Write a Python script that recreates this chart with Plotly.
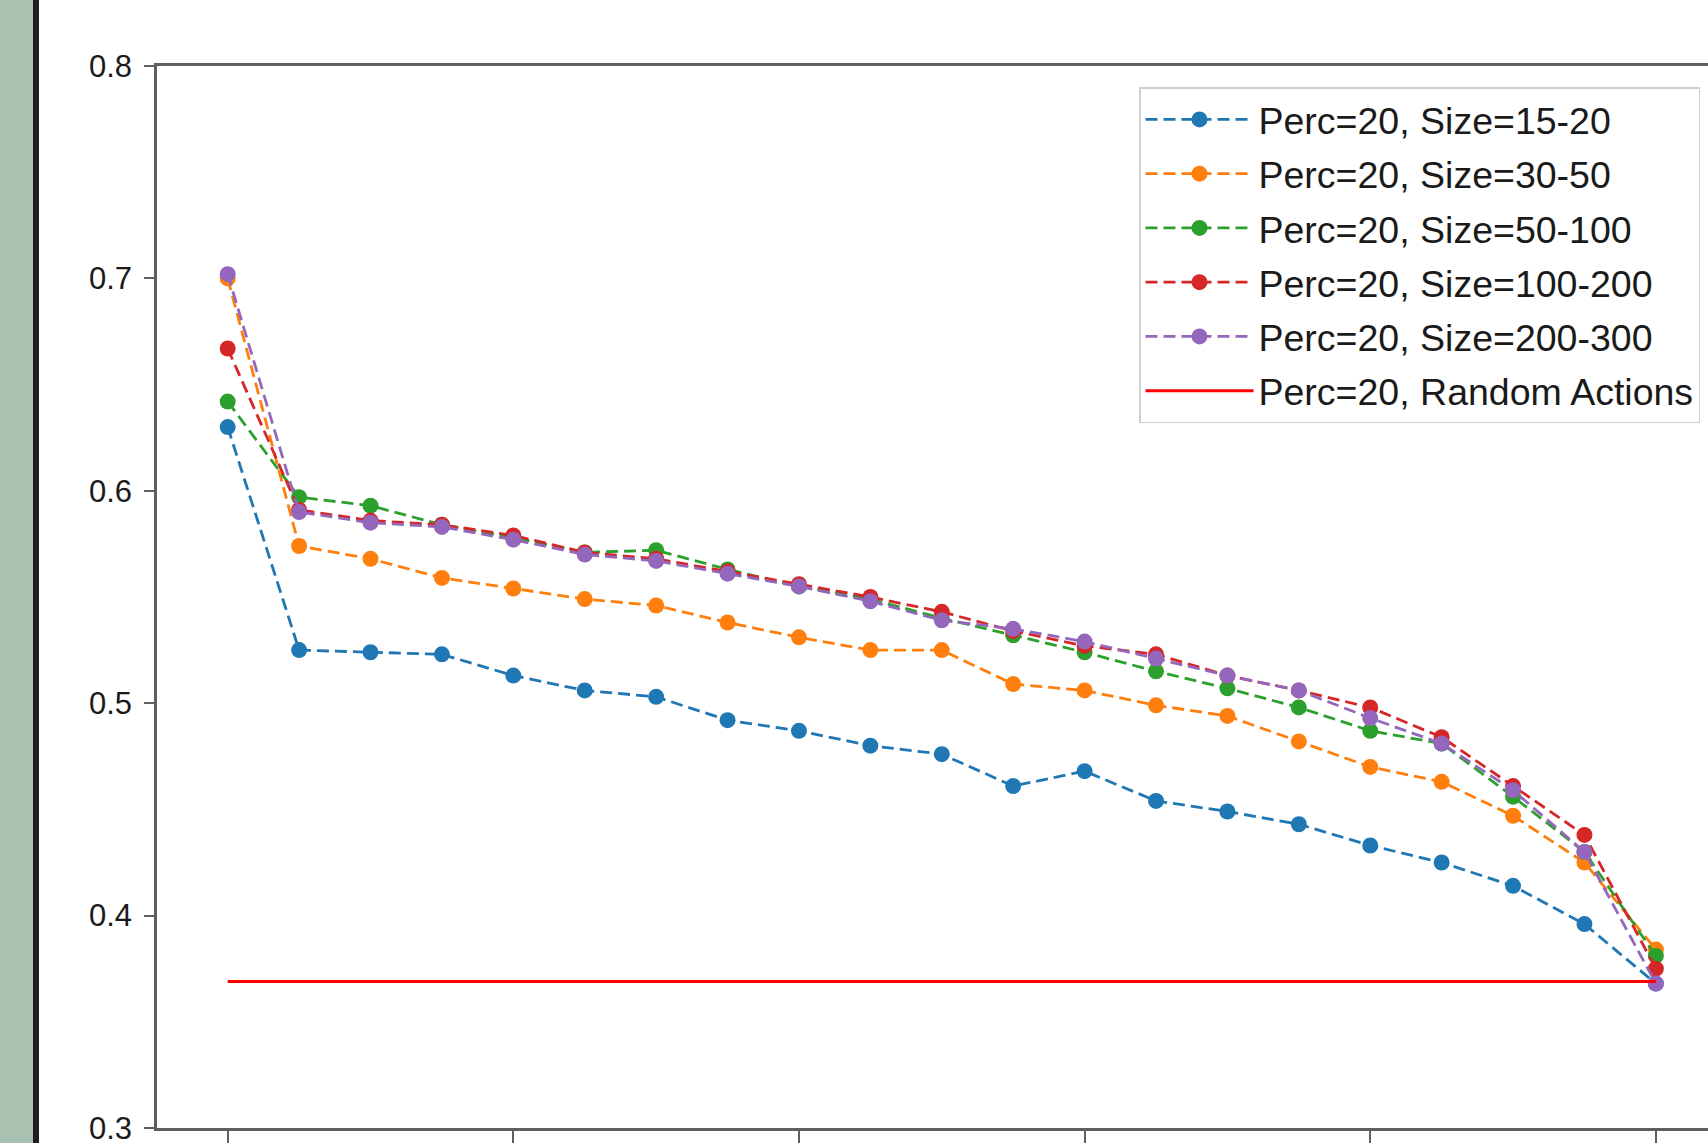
import plotly.graph_objects as go

# ---- data ----
steps = list(range(21))
tick_positions = [0, 4, 8, 12, 16, 20]

size_15_20 = [0.630, 0.525, 0.524, 0.523, 0.513, 0.506, 0.503, 0.492, 0.487, 0.480,
              0.476, 0.461, 0.468, 0.454, 0.449, 0.443, 0.433, 0.425, 0.414, 0.396, 0.368]
size_30_50 = [0.700, 0.574, 0.568, 0.559, 0.554, 0.549, 0.546, 0.538, 0.531, 0.525,
              0.525, 0.509, 0.506, 0.499, 0.494, 0.482, 0.470, 0.463, 0.447, 0.425, 0.384]
size_50_100 = [0.642, 0.597, 0.593, 0.584, 0.578, 0.571, 0.572, 0.563, 0.555, 0.549,
               0.540, 0.532, 0.524, 0.515, 0.507, 0.498, 0.487, 0.481, 0.456, 0.430, 0.381]
size_100_200 = [0.667, 0.591, 0.586, 0.584, 0.579, 0.571, 0.568, 0.562, 0.556, 0.550,
                0.543, 0.534, 0.527, 0.523, 0.513, 0.506, 0.498, 0.484, 0.461, 0.438, 0.375]
size_200_300 = [0.702, 0.590, 0.585, 0.583, 0.577, 0.570, 0.567, 0.561, 0.555, 0.548,
                0.539, 0.535, 0.529, 0.521, 0.513, 0.506, 0.493, 0.481, 0.459, 0.430, 0.368]
random_actions = [0.369] * 21

series_names = ["Perc=20, Size=15-20", "Perc=20, Size=30-50", "Perc=20, Size=50-100",
                "Perc=20, Size=100-200", "Perc=20, Size=200-300"]
series_values = [size_15_20, size_30_50, size_50_100, size_100_200, size_200_300]
series_colors = ["#1f77b4", "#ff7f0e", "#2ca02c", "#d62728", "#9467bd"]
random_name = "Perc=20, Random Actions"

W, H = 1708, 1143
ML, MT, MR, MB = 157, 66, 0, 15

fig = go.Figure()
for i, (name, vals, col) in enumerate(zip(series_names, series_values, series_colors)):
    fig.add_trace(go.Scatter(
        x=steps, y=vals, name=name, mode="lines+markers",
        line=dict(color=col, width=2.8, dash="12px,6px"),
        marker=dict(color=col, size=16),
        legendgroup=f"g{i}",
    ))
fig.add_trace(go.Scatter(
    x=steps, y=random_actions, name=random_name, mode="lines",
    line=dict(color="#ff0000", width=3), legendgroup="g5",
))

plot_w = W - ML - MR
# left strip of the original screenshot
fig.add_shape(type="rect", xref="paper", yref="paper",
              x0=(0 - ML) / plot_w, x1=(33 - ML) / plot_w, y0=-0.1, y1=1.2,
              fillcolor="#a8c1b0", line=dict(width=0), layer="above")
fig.add_shape(type="rect", xref="paper", yref="paper",
              x0=(33 - ML) / plot_w, x1=(39 - ML) / plot_w, y0=-0.1, y1=1.2,
              fillcolor="#1e1e1e", line=dict(width=0), layer="above")

axis_col = "#5f5f5f"
fig.update_layout(
    width=W, height=H,
    margin=dict(l=ML, r=MR, t=MT, b=MB, pad=0, autoexpand=False),
    paper_bgcolor="white", plot_bgcolor="white",
    font=dict(family="Liberation Sans, Arial, sans-serif", color="#1a1a1a"),
    showlegend=True,
    legend=dict(
        x=(1139 - ML) / plot_w, y=1 - (87 - MT) / (H - MT - MB),
        xanchor="left", yanchor="top",
        font=dict(size=37.5, family="Liberation Sans, Arial, sans-serif", color="#1a1a1a"),
        bgcolor="rgba(255,255,255,0.85)", bordercolor="#cfcfcf", borderwidth=1.5,
        itemwidth=108, traceorder="grouped", tracegroupgap=2.5,
    ),
    xaxis=dict(
        range=[-0.99, 20.73], tickvals=tick_positions, showticklabels=False,
        ticks="outside", ticklen=16, tickwidth=2, tickcolor=axis_col,
        showline=True, linecolor=axis_col, linewidth=2.5, mirror=True,
        showgrid=False, zeroline=False, automargin=False,
    ),
    yaxis=dict(
        range=[0.3, 0.8], tickvals=[0.3, 0.4, 0.5, 0.6, 0.7, 0.8], tickformat=".1f",
        ticks="outside", ticklen=10, tickwidth=2, tickcolor=axis_col,
        showline=True, linecolor=axis_col, linewidth=2.5, mirror=False,
        showgrid=False, zeroline=False, automargin=False,
        tickfont=dict(size=31, color="#1a1a1a"), ticklabelstandoff=6,
        ticklabeloverflow="allow",
    ),
)

fig.write_html("out.html", config={"displayModeBar": False},
               post_script="document.body.style.margin='0';document.body.style.overflow='hidden';")
